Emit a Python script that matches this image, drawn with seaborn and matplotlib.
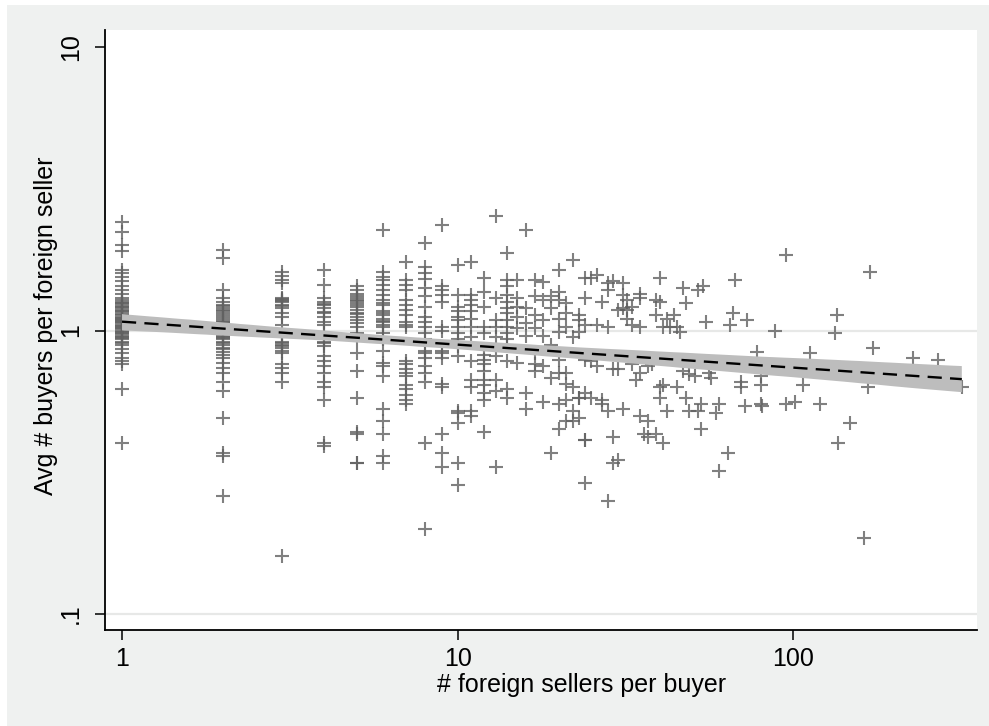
import numpy as np
import pandas as pd
import matplotlib
matplotlib.use("Agg")
import matplotlib.pyplot as plt
from matplotlib.patches import Rectangle
import seaborn as sns

# Avg # buyers per foreign seller, grouped by # foreign sellers per buyer
buyers_at_1 = [2.42, 2.23, 2.00, 1.91, 1.64, 1.59, 1.54, 1.49, 1.44, 1.39, 1.34, 1.30,
               1.28, 1.26, 1.25, 1.24, 1.22, 1.21, 1.20, 1.18, 1.17, 1.16, 1.14, 1.13,
               1.12, 1.11, 1.10, 1.09, 1.08, 1.07, 1.06, 1.05, 1.04, 1.03, 1.02, 1.01,
               1.00, 0.99, 0.98, 0.97, 0.96, 0.95, 0.94, 0.93, 0.91, 0.90, 0.89, 0.86,
               0.83, 0.80, 0.78, 0.76, 0.62, 0.40]
buyers_at_2 = [1.92, 1.80, 1.39, 1.30, 1.26, 1.23, 1.22, 1.20, 1.18, 1.17, 1.15, 1.13,
               1.12, 1.10, 1.08, 1.07, 1.06, 1.05, 1.03, 1.02, 1.00, 0.99, 0.98, 0.96,
               0.95, 0.94, 0.93, 0.91, 0.90, 0.89, 0.87, 0.86, 0.84, 0.82, 0.80, 0.77,
               0.74, 0.71, 0.66, 0.61, 0.49, 0.37, 0.36, 0.26]
buyers_at_3 = [1.61, 1.56, 1.51, 1.47, 1.30, 1.29, 1.28, 1.27, 1.26, 1.23, 1.22, 1.20,
               1.15, 1.12, 1.05, 0.91, 0.90, 0.89, 0.88, 0.87, 0.85, 0.83, 0.76, 0.74,
               0.71, 0.66, 0.16]
buyers_at_4 = [1.64, 1.45, 1.30, 1.26, 1.24, 1.23, 1.20, 1.16, 1.15, 1.12, 1.07, 1.05,
               0.98, 0.94, 0.91, 0.90, 0.88, 0.81, 0.78, 0.75, 0.71, 0.66, 0.63, 0.57,
               0.40, 0.39]
buyers_at_5 = [1.43, 1.39, 1.35, 1.32, 1.30, 1.28, 1.27, 1.25, 1.23, 1.21, 1.18, 1.15,
               1.14, 1.12, 1.09, 1.06, 1.03, 0.98, 0.93, 0.83, 0.72, 0.58, 0.44, 0.43,
               0.34, 0.34]
buyers_at_6 = [2.26, 1.61, 1.55, 1.51, 1.45, 1.39, 1.33, 1.28, 1.25, 1.23, 1.17, 1.15,
               1.13, 1.10, 1.08, 1.07, 1.05, 1.03, 0.98, 0.93, 0.85, 0.77, 0.75, 0.69,
               0.53, 0.48, 0.43, 0.36, 0.34]
buyers_at_7 = [1.74, 1.51, 1.45, 1.39, 1.28, 1.23, 1.18, 1.13, 1.07, 1.05, 1.03, 0.78,
               0.76, 0.73, 0.71, 0.69, 0.64, 0.62, 0.59, 0.57, 0.55]
buyers_at_8 = [2.03, 1.68, 1.59, 1.52, 1.41, 1.32, 1.21, 1.12, 1.07, 1.03, 0.98, 0.93,
               0.85, 0.83, 0.80, 0.75, 0.71, 0.66, 0.40, 0.20]
buyers_at_9 = [2.36, 1.43, 1.39, 1.33, 1.26, 1.03, 1.00, 0.85, 0.83, 0.80, 0.65, 0.63,
               0.43, 0.37, 0.33]
buyers_at_10 = [1.70, 1.33, 1.21, 1.17, 1.12, 1.09, 1.03, 0.98, 0.93, 0.88, 0.81, 0.52,
                0.51, 0.47, 0.34, 0.285]
buyers_at_11 = [1.75, 1.33, 1.28, 1.23, 1.17, 1.10, 1.03, 0.95, 0.78, 0.67, 0.63, 0.52, 0.50]
buyers_at_12 = [1.53, 1.37, 1.21, 1.03, 0.98, 0.82, 0.79, 0.76, 0.72, 0.67, 0.64, 0.60,
                0.57, 0.44]
buyers_at_13 = [2.53, 1.30, 1.09, 1.03, 0.95, 0.81, 0.67, 0.61, 0.33]
buyers_at_14 = [1.88, 1.51, 1.44, 1.33, 1.26, 1.20, 1.15, 1.09, 1.03, 0.98, 0.93, 0.88,
                0.78, 0.62, 0.58]
buyers_at_15 = [1.51, 1.30, 1.21, 1.12, 1.02, 0.77]
buyers_at_16 = [2.26, 1.20, 1.06, 0.96, 0.60, 0.53]
buyers_at_17 = [1.51, 1.32, 1.13, 1.02, 0.83, 0.76, 0.72]
buyers_at_18 = [1.48, 1.28, 1.09, 0.96, 0.75, 0.56]
buyers_at_19 = [1.32, 1.20, 0.89, 0.68, 0.37]
buyers_at_20 = [1.64, 1.37, 1.28, 1.10, 0.99, 0.79, 0.71, 0.55, 0.45]
buyers_at_21 = [1.25, 1.15, 1.03, 0.71, 0.65, 0.57, 0.48]
buyers_at_22 = [1.77, 0.95, 0.63, 0.52, 0.48]
buyers_at_23 = [1.13, 1.09, 0.99, 0.58, 0.58, 0.49]
buyers_at_24 = [1.53, 1.30, 1.05, 0.79, 0.60, 0.41, 0.41, 0.29]

# Buyers with more than 24 foreign sellers
tail_sellers = [25, 26, 27, 28, 29, 31, 28, 31, 32, 35, 35, 39, 40, 30, 31, 32, 33,
                32, 33, 35, 26, 28, 39, 42, 44, 41, 43, 45, 46, 40, 47, 52, 54, 48,
                67, 55, 66, 65, 73, 88, 95, 135, 133, 169, 173, 228, 271, 318, 167,
                112, 78, 124, 107, 80, 80, 70, 70, 120, 95, 101, 80, 81, 72, 60, 59,
                53, 52, 49, 42, 40, 40, 45, 48, 41, 47, 49, 51, 56, 57, 53, 64, 60,
                148, 136, 162, 34, 35, 37, 33, 38, 25, 26, 29, 30, 25, 27, 27, 28, 31,
                35, 37, 36, 37, 39, 41, 29, 29, 30, 28]
tail_buyers = [1.53, 1.57, 1.26, 1.47, 1.49, 1.47, 1.39, 1.33, 1.28, 1.35, 1.30, 1.28,
               1.26, 1.18, 1.20, 1.18, 1.21, 1.10, 1.05, 1.03, 1.05, 1.03, 1.13, 1.10,
               1.13, 1.03, 1.03, 1.03, 0.99, 1.53, 1.41, 1.39, 1.43, 1.25, 1.51, 1.07,
               1.15, 1.05, 1.09, 1.00, 1.85, 1.13, 0.98, 1.61, 0.87, 0.80, 0.79, 0.63,
               0.63, 0.83, 0.84, 0.73, 0.64, 0.69, 0.64, 0.66, 0.63, 0.55, 0.55, 0.56,
               0.55, 0.54, 0.54, 0.55, 0.51, 0.55, 0.52, 0.52, 0.52, 0.58, 0.63, 0.63,
               0.58, 0.64, 0.72, 0.70, 0.69, 0.71, 0.68, 0.45, 0.37, 0.32, 0.47, 0.40,
               0.185, 0.67, 0.71, 0.75, 0.76, 0.76, 0.78, 0.75, 0.73, 0.73, 0.58, 0.57,
               0.55, 0.52, 0.53, 0.50, 0.48, 0.43, 0.42, 0.43, 0.40, 0.42, 0.34, 0.35,
               0.25]

x_ticks = [1, 10, 100]
x_tick_labels = ["1", "10", "100"]
y_ticks = [0.1, 1, 10]
y_tick_labels = [".1", "1", "10"]

columns = [buyers_at_1, buyers_at_2, buyers_at_3, buyers_at_4, buyers_at_5,
           buyers_at_6, buyers_at_7, buyers_at_8, buyers_at_9, buyers_at_10,
           buyers_at_11, buyers_at_12, buyers_at_13, buyers_at_14, buyers_at_15,
           buyers_at_16, buyers_at_17, buyers_at_18, buyers_at_19, buyers_at_20,
           buyers_at_21, buyers_at_22, buyers_at_23, buyers_at_24]

sellers, buyers = [], []
for n_sellers, vals in enumerate(columns, start=1):
    sellers += [n_sellers] * len(vals)
    buyers += vals
sellers += tail_sellers
buyers += tail_buyers

df = pd.DataFrame({"sellers": sellers, "buyers": buyers})
df["log_sellers"] = np.log10(df["sellers"])
df["log_buyers"] = np.log10(df["buyers"])

sns.set_theme(style="white")
plt.rcParams["font.family"] = ["Liberation Sans", "DejaVu Sans"]

W, H = 989, 726
fig = plt.figure(figsize=(W / 100, H / 100), dpi=100, facecolor="white")
fig.patches.append(Rectangle((7 / W, 0), 1, 1 - 5 / H, transform=fig.transFigure,
                             facecolor="#eff1f0", edgecolor="none", zorder=-10))

ax = fig.add_axes([105 / W, 1 - 630 / H, 872 / W, 600 / H])
ax.set_zorder(1)
ax.set_facecolor("white")

# horizontal grid lines at 1 and .1
for g in [0.0, -1.0]:
    ax.axhline(g, color="#e7e8e7", lw=1.6, zorder=0.5)

sns.regplot(data=df, x="log_sellers", y="log_buyers", ax=ax, ci=95, n_boot=1000,
            seed=7, truncate=True, marker="+",
            scatter_kws=dict(s=95, color="#616161", linewidths=1.5),
            line_kws=dict(color="black", lw=1.7, linestyle=(0, (6, 3.5))))

# confidence band in solid light gray
for coll in ax.collections[1:]:
    coll.set_alpha(1)
    coll.set_facecolor("#bdbdbd")
    coll.set_edgecolor("none")

ax.set_xlim(-0.0507, 2.5477)
ax.set_ylim(-1.0564, 1.060)
ax.set_xticks(np.log10(x_ticks), x_tick_labels)
ax.set_yticks(np.log10(y_ticks), y_tick_labels)
ax.set_xlabel("")
ax.set_ylabel("")
ax.tick_params(axis="both", which="major", bottom=True, left=True, direction="out",
               length=7, width=1.1, color="black", labelsize=18, labelcolor="black")
ax.tick_params(axis="x", pad=5)
ax.tick_params(axis="y", pad=9)
for t in ax.get_yticklabels():
    t.set_rotation(90)
    t.set_va("center")

for side in ["top", "right"]:
    ax.spines[side].set_visible(False)
for side in ["left", "bottom"]:
    ax.spines[side].set_color("black")
    ax.spines[side].set_linewidth(1.3)

fig.text(582 / W, 1 - 685 / H, "# foreign sellers per buyer", ha="center", va="center",
         fontsize=18, color="black")
fig.text(46 / W, 1 - 326 / H, "Avg # buyers per foreign seller", ha="center",
         va="center", rotation=90, fontsize=18, color="black")

fig.savefig("out.png", dpi=100, facecolor=fig.get_facecolor())
